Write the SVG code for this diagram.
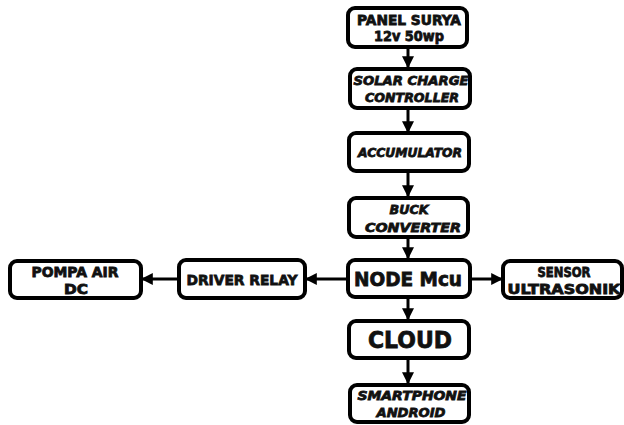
<svg xmlns="http://www.w3.org/2000/svg" width="624" height="425" viewBox="0 0 624 425">
<style>
.box{fill:#fff;stroke:#000;stroke-width:4}
.t{font-family:"DejaVu Sans",Inter,sans-serif;font-weight:bold;fill:#111;stroke:#111;stroke-width:0.8;text-anchor:middle}
.i{font-style:italic}
.c{stroke:#000;stroke-width:3;fill:none}
</style>
<defs>
<marker id="ah" viewBox="0 0 10 10" refX="9" refY="5" markerWidth="4" markerHeight="4" orient="auto" markerUnits="strokeWidth">
<path d="M0,0L10,5L0,10z" fill="#000"/>
</marker>
</defs>
<rect width="624" height="425" fill="#fff"/>
<g id="connectors">
<line class="c" x1="408" y1="47" x2="408" y2="67" marker-end="url(#ah)"/>
<line class="c" x1="408" y1="108" x2="408" y2="132" marker-end="url(#ah)"/>
<line class="c" x1="408" y1="171" x2="408" y2="196" marker-end="url(#ah)"/>
<line class="c" x1="408" y1="237" x2="408" y2="258" marker-end="url(#ah)"/>
<line class="c" x1="408" y1="297" x2="408" y2="319" marker-end="url(#ah)"/>
<line class="c" x1="408" y1="358" x2="408" y2="383" marker-end="url(#ah)"/>
<line class="c" x1="348" y1="279" x2="306" y2="279" marker-end="url(#ah)"/>
<line class="c" x1="179" y1="279" x2="142" y2="279" marker-end="url(#ah)"/>
<line class="c" x1="470" y1="279" x2="502" y2="279" marker-end="url(#ah)"/>
</g>
<g id="panel"><rect class="box" x="348" y="8" width="119" height="39" rx="7"/>
<text class="t" x="409" y="25" font-size="13.5" textLength="104" lengthAdjust="spacingAndGlyphs">PANEL SURYA</text>
<text class="t" x="409" y="41" font-size="13.5" textLength="70" lengthAdjust="spacingAndGlyphs">12v 50wp</text></g>
<g id="scc"><rect class="box" x="350" y="69" width="120" height="39" rx="7"/>
<text class="t i" x="411" y="85" font-size="13" textLength="115" lengthAdjust="spacingAndGlyphs">SOLAR CHARGE</text>
<text class="t i" x="412" y="102" font-size="13" textLength="94" lengthAdjust="spacingAndGlyphs">CONTROLLER</text></g>
<g id="accumulator"><rect class="box" x="349" y="133" width="120" height="38" rx="7"/>
<text class="t i" x="410" y="157" font-size="13" textLength="104" lengthAdjust="spacingAndGlyphs">ACCUMULATOR</text></g>
<g id="buck"><rect class="box" x="349" y="198" width="119" height="39" rx="7"/>
<text class="t i" x="409" y="214" font-size="13" textLength="39" lengthAdjust="spacingAndGlyphs">BUCK</text>
<text class="t i" x="413" y="232" font-size="13" textLength="96" lengthAdjust="spacingAndGlyphs">CONVERTER</text></g>
<g id="nodemcu"><rect class="box" x="348" y="260" width="122" height="37" rx="7"/>
<text class="t" x="408" y="286" font-size="19" textLength="108" lengthAdjust="spacingAndGlyphs">NODE Mcu</text></g>
<g id="cloud"><rect class="box" x="349" y="321" width="120" height="37" rx="7"/>
<text class="t" x="410" y="348" font-size="23" textLength="84" lengthAdjust="spacingAndGlyphs">CLOUD</text></g>
<g id="smartphone"><rect class="box" x="350" y="385" width="119" height="37" rx="7"/>
<text class="t i" x="412" y="400" font-size="13" textLength="109" lengthAdjust="spacingAndGlyphs">SMARTPHONE</text>
<text class="t i" x="411" y="417" font-size="13" textLength="69" lengthAdjust="spacingAndGlyphs">ANDROID</text></g>
<g id="pompa"><rect class="box" x="10" y="261" width="131" height="37" rx="7"/>
<text class="t" x="75" y="277" font-size="13.5" textLength="87" lengthAdjust="spacingAndGlyphs">POMPA AIR</text>
<text class="t" x="76" y="294" font-size="13.5" textLength="24" lengthAdjust="spacingAndGlyphs">DC</text></g>
<g id="driver"><rect class="box" x="179" y="260" width="126" height="38" rx="7"/>
<text class="t" x="242" y="285" font-size="14.5" textLength="111" lengthAdjust="spacingAndGlyphs">DRIVER RELAY</text></g>
<g id="sensor"><rect class="box" x="503" y="261" width="119" height="37" rx="7"/>
<text class="t" x="564" y="277" font-size="13.5" textLength="53" lengthAdjust="spacingAndGlyphs">SENSOR</text>
<text class="t" x="564" y="294" font-size="13.5" textLength="113" lengthAdjust="spacingAndGlyphs">ULTRASONIK</text></g>
</svg>
